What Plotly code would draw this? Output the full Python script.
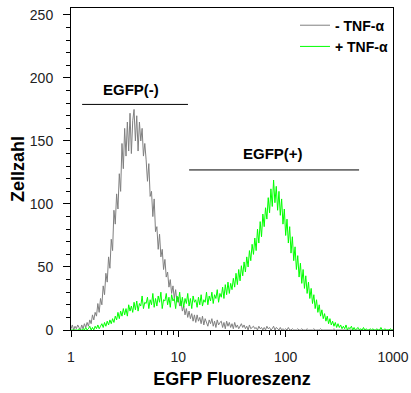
import numpy as np
import plotly.graph_objects as go

# channel grid: 241 log-spaced channels spanning 1..1000 (step 0.0125 decade)
log_step = 0.0125
n_channels = 241

grey_counts = [
    1, 4, 0, 3, 1, 4, 2, 0,
    4, 1, 5, 2, 6, 3, 8, 5,
    12, 8, 14, 11, 21, 14, 25, 20,
    35, 28, 45, 38, 58, 49, 72, 63,
    95, 84, 108, 96, 124, 110, 148, 128,
    160, 138, 165, 142, 172, 140, 166, 175,
    150, 170, 142, 165, 150, 160, 138, 148,
    135, 118, 132, 106, 110, 90, 104, 78,
    82, 64, 76, 58, 64, 48, 56, 42,
    46, 34, 40, 29, 35, 25, 32, 22,
    26, 19, 23, 15, 19, 12, 17, 10,
    15, 9, 13, 7, 12, 6, 12, 7,
    10, 5, 11, 4, 9, 6, 3, 8,
    5, 9, 3, 7, 2, 8, 4, 6,
    7, 2, 6, 1, 7, 3, 6, 2,
    5, 1, 6, 2, 4, 1, 3, 5,
    2, 4, 1, 3, 0, 4, 1, 2,
    3, 1, 2, 0, 3, 1, 2, 0,
    2, 0, 3, 1, 2, 0, 1, 3,
    0, 2, 1, 0, 2, 0, 1, 0,
    1, 0, 2, 0, 0, 1, 0, 0,
    0, 1, 0, 0, 1, 0, 0, 0,
    1, 0, 0, 0, 0, 1, 0, 0,
    0, 0, 1, 0, 0, 0, 0, 0,
    0, 0, 0, 0, 1, 0, 0, 0,
    0, 0, 0, 0, 0, 0, 0, 0,
    0, 0, 0, 0, 0, 0, 0, 0,
    0, 0, 0, 0, 0, 0, 0, 0,
    0, 0, 0, 0, 0, 0, 0, 0,
    0, 0, 0, 0, 0, 0, 0, 0,
    0,
]

green_counts = [
    0, 0, 0, 0, 0, 0, 1, 0,
    0, 1, 0, 2, 0, 1, 3, 0,
    2, 0, 3, 1, 4, 1, 3, 5,
    2, 6, 3, 7, 4, 8, 5, 9,
    6, 11, 8, 14, 9, 15, 11, 17,
    12, 17, 11, 20, 15, 19, 14, 22,
    16, 23, 15, 21, 19, 27, 17, 22,
    21, 26, 17, 24, 20, 29, 18, 25,
    19, 27, 22, 30, 17, 24, 23, 29,
    20, 26, 18, 28, 23, 25, 17, 27,
    22, 30, 19, 26, 18, 25, 21, 29,
    19, 25, 17, 27, 22, 24, 18, 26,
    20, 28, 19, 24, 22, 30, 20, 27,
    23, 30, 21, 28, 25, 32, 22, 29,
    26, 34, 25, 36, 28, 38, 29, 37,
    32, 41, 34, 45, 36, 48, 39, 51,
    43, 54, 46, 58, 50, 63, 55, 68,
    60, 73, 63, 80, 69, 86, 74, 92,
    82, 97, 88, 105, 93, 112, 98, 119,
    101, 114, 95, 110, 91, 104, 84, 96,
    75, 88, 69, 82, 61, 74, 55, 66,
    48, 59, 42, 53, 37, 48, 33, 43,
    29, 38, 25, 33, 21, 28, 17, 24,
    14, 20, 11, 16, 9, 13, 7, 11,
    5, 9, 4, 7, 3, 6, 2, 5,
    2, 4, 1, 3, 1, 4, 0, 2,
    1, 3, 0, 2, 0, 1, 2, 0,
    1, 0, 2, 0, 1, 0, 0, 1,
    0, 1, 0, 0, 1, 0, 0, 2,
    0, 0, 1, 0, 0, 0, 1, 0,
    0,
]

series_names = ["- TNF-\u03b1", "+ TNF-\u03b1"]
series_colors = ["#808080", "#00ff00"]

gate_labels = ["EGFP(-)", "EGFP(+)"]
gate_lo = [1.27, 12.6]
gate_hi = [12.3, 483]
gate_level = [179, 127]
gate_label_x = [3.66, 76]
gate_label_y = [191, 140]

y_ticks = [0, 50, 100, 150, 200, 250]
x_ticks = [1, 10, 100, 1000]
x_tick_labels = ["1", "10", "100", "1000"]

channels = 10 ** (np.arange(n_channels) * log_step)

FONT = "Arial, 'Liberation Sans', sans-serif"

fig = go.Figure()
for name, counts, color in zip(series_names, [grey_counts, green_counts], series_colors):
    fig.add_trace(go.Scatter(x=channels, y=counts, mode="lines", name=name,
                             line=dict(color=color, width=1)))

for lab, lo, hi, lvl, lx, ly in zip(gate_labels, gate_lo, gate_hi, gate_level, gate_label_x, gate_label_y):
    fig.add_trace(go.Scatter(x=[lo, hi], y=[lvl, lvl], mode="lines", showlegend=False,
                             line=dict(color="black", width=1), hoverinfo="skip"))
    fig.add_annotation(x=np.log10(lx), y=ly, text="<b>%s</b>" % lab, showarrow=False,
                       font=dict(family=FONT, size=15, color="black"))

fig.update_layout(
    width=411, height=393,
    margin=dict(l=71, r=18, t=8, b=63),
    paper_bgcolor="white", plot_bgcolor="white",
    font=dict(family=FONT, color="#222"),
    legend=dict(x=1, xanchor="right", y=0.995, yanchor="top", bgcolor="rgba(0,0,0,0)",
                font=dict(family=FONT, size=14, color="black", weight="bold"),
                tracegroupgap=0, itemwidth=30),
    showlegend=True,
)
fig.update_xaxes(type="log", range=[0, 3], showline=True, linecolor="black", linewidth=1,
                 mirror=True, ticks="outside", ticklen=6, tickcolor="black",
                 tickvals=x_ticks, ticktext=x_tick_labels, showgrid=False, zeroline=False,
                 tickfont=dict(size=14, color="#222"), ticklabelstandoff=8, automargin=False,
                 minor=dict(ticks="outside", ticklen=4, tickcolor="black", dtick="D1", showgrid=False),
                 title=dict(text="<b>EGFP Fluoreszenz</b>", font=dict(size=18, color="black"), standoff=8))
fig.update_yaxes(range=[0, 255.5], showline=True, linecolor="black", linewidth=1,
                 mirror=True, ticks="outside", ticklen=7, tickcolor="black",
                 tickvals=y_ticks, showgrid=False, zeroline=False,
                 tickfont=dict(size=14, color="#222"), ticklabelstandoff=7, automargin=False,
                 minor=dict(ticks="outside", ticklen=4, tickcolor="black", dtick=10, showgrid=False),
                 title=dict(text="<b>Zellzahl</b>", font=dict(size=18, color="black"), standoff=0))

fig.write_html("out.html", config={"displayModeBar": False},
               post_script="document.body.style.margin='0';")
